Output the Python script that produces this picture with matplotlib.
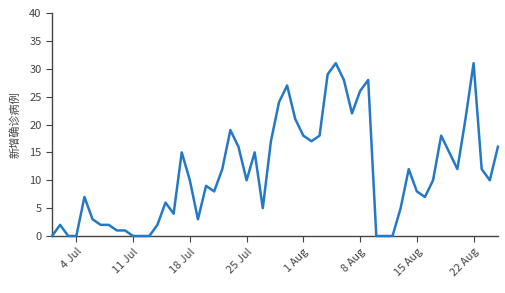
import matplotlib
matplotlib.use("Agg")
import matplotlib.pyplot as plt
import matplotlib.dates as mdates
import numpy as np
import pandas as pd

start_date = "2020-07-01"
cases = [0, 2, 0, 0, 7, 3, 2, 2, 1, 1,
         0, 0, 0, 2, 6, 4, 15, 10, 3, 9,
         8, 12, 19, 16, 10, 15, 5, 17, 24, 27,
         21, 18, 17, 18, 29, 31, 28, 22, 26, 28,
         0, 0, 0, 5, 12, 8, 7, 10, 18, 15,
         12, 21, 31, 12, 10, 16]
y_ticks = [0, 5, 10, 15, 20, 25, 30, 35, 40]
y_label = "新增确诊病例"

dates = pd.date_range(start_date, periods=len(cases), freq="D")

plt.rcParams['font.family'] = ['Noto Sans CJK SC', 'DejaVu Sans']

fig = plt.figure(figsize=(5.06, 2.93), dpi=100)
ax = fig.add_axes([0.1028, 0.1945, 0.984 - 0.1028, 0.9556 - 0.1945])

ax.plot(dates, cases, color="#2479c6", lw=1.8, zorder=3, clip_on=False)

ax.set_xlim(dates[0], dates[-1])
ax.set_ylim(0, 40)
ax.set_yticks(y_ticks)
ax.xaxis.set_major_locator(mdates.WeekdayLocator(byweekday=mdates.SA))
ax.xaxis.set_major_formatter(mdates.DateFormatter("%-d %b"))

for s in ["top", "right"]:
    ax.spines[s].set_visible(False)
for s in ["left", "bottom"]:
    ax.spines[s].set_color("#444444")
    ax.spines[s].set_linewidth(1.0)

ax.tick_params(axis="both", colors="#444444", labelsize=8, length=4, width=0.8)
plt.setp(ax.get_xticklabels(), rotation=45, ha="right", rotation_mode="anchor")

ax.set_ylabel(y_label, fontsize=8, color="#444444", labelpad=6)

fig.savefig("out.png", dpi=100)
